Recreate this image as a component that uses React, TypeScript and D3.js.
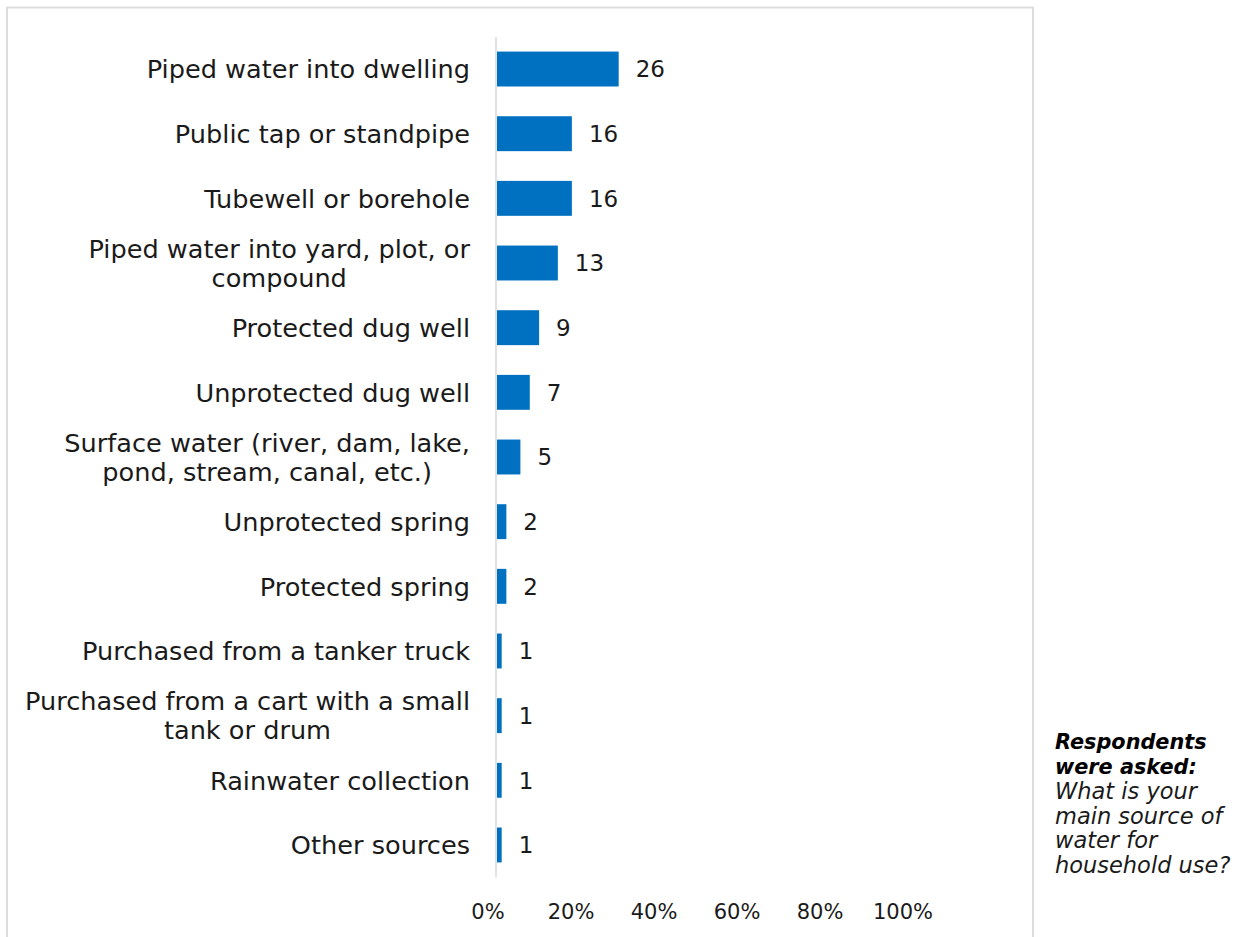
import React from "react";
import * as d3 from "d3";

const categories: string[][] = [
  ["Piped water into dwelling"],
  ["Public tap or standpipe"],
  ["Tubewell or borehole"],
  ["Piped water into yard, plot, or", "compound"],
  ["Protected dug well"],
  ["Unprotected dug well"],
  ["Surface water (river, dam, lake,", "pond, stream, canal, etc.)"],
  ["Unprotected spring"],
  ["Protected spring"],
  ["Purchased from a tanker truck"],
  ["Purchased from a cart with a small", "tank or drum"],
  ["Rainwater collection"],
  ["Other sources"],
];
const values: number[] = [26, 16, 16, 13, 9, 7, 5, 2, 2, 1, 1, 1, 1];
const tickValues: number[] = [0, 20, 40, 60, 80, 100];
const noteBold: string[] = ["Respondents", "were asked:"];
const noteItalic: string[] = ["What is your", "main source of", "water for", "household use?"];

const FONT = "'DejaVu Sans', sans-serif";
const LABEL_SIZE = 25.6;

let ctx: CanvasRenderingContext2D | null = null;
function measure(s: string, size: number): number {
  if (!ctx) ctx = document.createElement("canvas").getContext("2d");
  if (!ctx) return s.length * size * 0.6;
  ctx.font = `${size}px 'DejaVu Sans'`;
  return ctx.measureText(s).width;
}

export default function App() {
  const W = 1247, H = 937;
  const x = d3.scaleLinear().domain([0, 100]).range([497, 965]);
  const xTick = d3.scaleLinear().domain([0, 100]).range([488, 903]);
  const y = d3
    .scaleBand<number>()
    .domain(d3.range(categories.length))
    .range([36.7, 877.3])
    .paddingInner(0.46)
    .paddingOuter(0.23);
  const axisX = 496;
  const labelRight = 470;
  return (
    <svg width={W} height={H} style={{ position: "absolute", left: 0, top: 0, background: "#fff" }}>
      <rect x={7} y={7.5} width={1026} height={H + 10} fill="none" stroke="#dddddd" strokeWidth={2} />
      {categories.map((lines, i) => {
        const cy = (y(i) as number) + y.bandwidth() / 2;
        const lh = 29;
        const y0 = cy - ((lines.length - 1) * lh) / 2;
        const maxW = Math.max(...lines.map((l) => measure(l, LABEL_SIZE)));
        const cx = labelRight - maxW / 2;
        return (
          <g key={i}>
            <rect x={x(0)} y={y(i)} width={x(values[i]) - x(0)} height={y.bandwidth()} fill="#0070C0" />
            <text
              x={x(values[i]) + 17}
              y={cy}
              dy="0.36em"
              fontFamily={FONT}
              fontSize={23}
              fill="#1a1a1a"
            >
              {values[i]}
            </text>
            {lines.map((l, j) => (
              <text
                key={j}
                x={lines.length > 1 ? cx : labelRight}
                y={y0 + j * lh}
                dy="0.36em"
                textAnchor={lines.length > 1 ? "middle" : "end"}
                fontFamily={FONT}
                fontSize={LABEL_SIZE}
                fill="#1a1a1a"
              >
                {l}
              </text>
            ))}
          </g>
        );
      })}
      <line x1={axisX} x2={axisX} y1={36.7} y2={877.3} stroke="#d9d9d9" strokeWidth={1.5} />
      {tickValues.map((t) => (
        <text
          key={t}
          x={xTick(t)}
          y={911}
          dy="0.36em"
          textAnchor="middle"
          fontFamily={FONT}
          fontSize={21}
          fill="#1a1a1a"
        >
          {t}%
        </text>
      ))}
      {noteBold.map((l, i) => (
        <text
          key={"b" + i}
          x={1055}
          y={742 + i * 24.5}
          dy="0.36em"
          fontFamily={FONT}
          fontSize={20.8}
          fontWeight="bold"
          fontStyle="italic"
          fill="#000"
        >
          {l}
        </text>
      ))}
      {noteItalic.map((l, i) => (
        <text
          key={"i" + i}
          x={1055}
          y={791 + i * 24.5}
          dy="0.36em"
          fontFamily={FONT}
          fontSize={22.5}
          fontStyle="italic"
          fill="#1a1a1a"
        >
          {l}
        </text>
      ))}
    </svg>
  );
}
